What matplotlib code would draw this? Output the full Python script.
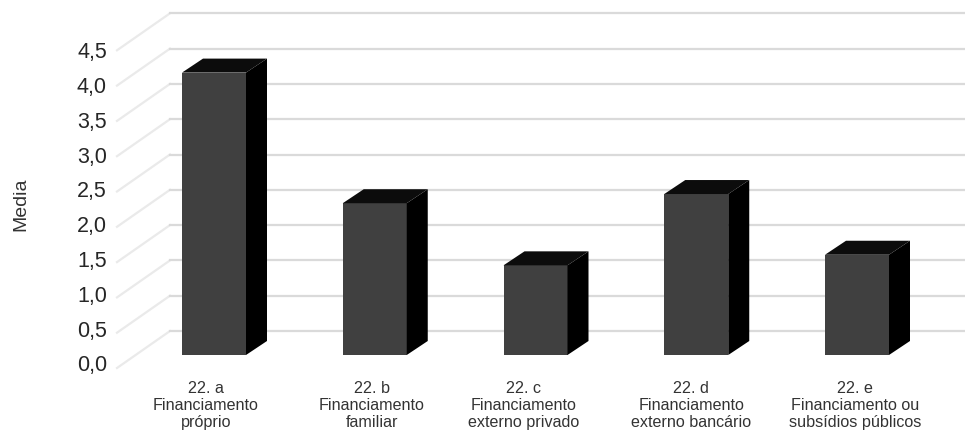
import matplotlib.pyplot as plt
from matplotlib.patches import Polygon

plt.rcParams['font.family'] = ['Liberation Sans', 'DejaVu Sans']

categories = ["22. a\nFinanciamento\npróprio", "22. b\nFinanciamento\nfamiliar",
              "22. c\nFinanciamento\nexterno privado", "22. d\nFinanciamento\nexterno bancário",
              "22. e\nFinanciamento ou\nsubsídios públicos"]
values = [4.0, 2.15, 1.27, 2.28, 1.42]
ticks = [0.0, 0.5, 1.0, 1.5, 2.0, 2.5, 3.0, 3.5, 4.0, 4.5]
tick_labels = ["0,0", "0,5", "1,0", "1,5", "2,0", "2,5", "3,0", "3,5", "4,0", "4,5"]

px_x = 160.75   # pixels per category
px_y = 70.6     # pixels per value unit
W, H = 965, 431

fig = plt.figure(figsize=(9.65, 4.31), dpi=100)
ax = fig.add_axes([0, 0, 1, 1])
ax.set_xlim(-214 / px_x, (W - 214) / px_x)
ax.set_ylim((356 - H) / px_y, 356 / px_y)
ax.axis("off")

bar_w = 64 / px_x
dx = 21 / px_x
dy = 14 / px_y

# labels are not centred under the bars in the original
label_shift = [-8, -3, -12, -5, -2]

# walls, the grid sits 24 px behind the bars and the floor runs out to the labels
for t in ticks:
    yb = t + 24 / px_y
    yf = t - 13 / px_y
    ax.plot([-97 / px_x, -44 / px_x], [yf, yb], color="#eaeaea", lw=1.6, zorder=1)
    ax.plot([-44 / px_x, (W - 214) / px_x], [yb, yb], color="#dadada", lw=1.6, zorder=1)

for i, v in enumerate(values):
    l = i - bar_w / 2
    r = i + bar_w / 2
    ax.add_patch(Polygon([(l, 0), (r, 0), (r, v), (l, v)], fc="#404040", ec="none", zorder=3))
    ax.add_patch(Polygon([(r, 0), (r + dx, dy), (r + dx, v + dy), (r, v)], fc="#000000", ec="none", zorder=3))
    ax.add_patch(Polygon([(l, v), (r, v), (r + dx, v + dy), (l + dx, v + dy)], fc="#0c0c0c", ec="none", zorder=3))
    ax.text(i + label_shift[i] / px_x, -25 / px_y, categories[i], ha="center", va="top", fontsize=11.6,
            color="#333333", linespacing=1.17)

for t, lab in zip(ticks, tick_labels):
    ax.text(107 / px_x - 214 / px_x, t * 0.986 - 10 / px_y, lab, ha="right", va="center",
            fontsize=15.5, color="#262626")

ax.text((21 - 214) / px_x, (356 - 204) / px_y, "Media", rotation=90, ha="center", va="center",
        fontsize=14, color="#333333")

fig.savefig("out.png", dpi=100)
